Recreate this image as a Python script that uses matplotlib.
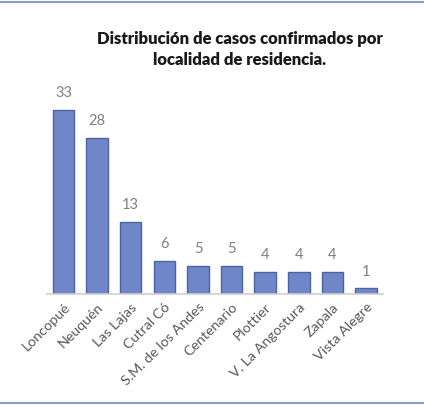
import matplotlib
matplotlib.use('Agg')
import matplotlib.pyplot as plt
from matplotlib.lines import Line2D

localidades = ['Loncopué', 'Neuquén', 'Las Lajas', 'Cutral Có', 'S.M. de los Andes',
               'Centenario', 'Plottier', 'V. La Angostura', 'Zapala', 'Vista Alegre']
casos = [33, 28, 13, 6, 5, 5, 4, 4, 4, 1]

plt.rcParams['font.family'] = ['Lato', 'DejaVu Sans']

fig = plt.figure(figsize=(4.24, 4.05), dpi=100)
ax = fig.add_axes([0.110, 0.274, 0.793, 0.482])

x = range(len(casos))
bars = ax.bar(x, casos, width=0.64, color='#6f86c9', edgecolor='#4b64a6', linewidth=1.0)
for b, v in zip(bars, casos):
    ax.annotate(str(v), (b.get_x() + b.get_width() / 2, v), xytext=(0, 7),
                textcoords='offset points', ha='center', va='bottom',
                fontsize=10.5, color='#7f7f7f')

ax.set_xlim(-0.5, len(casos) - 0.5)
ax.set_ylim(0, 35)
ax.set_xticks(list(x))
ax.set_xticklabels(localidades, rotation=45, ha='right', rotation_mode='anchor',
                   fontsize=10.3, color='#595959')
ax.tick_params(axis='x', length=0, pad=5)
ax.set_yticks([])
for s in ['top', 'right', 'left']:
    ax.spines[s].set_visible(False)
ax.spines['bottom'].set_color('#d0d0d0')
ax.spines['bottom'].set_linewidth(1.2)

fig.text(0.566, 0.877, 'Distribución de casos confirmados por\nlocalidad de residencia.',
         ha='center', va='center', fontsize=12, fontweight='heavy',
         color='#1a1a1a', linespacing=1.4)

# thin frame lines at top and bottom of the picture
fig.add_artist(Line2D([0, 1], [0.996, 0.996], color='#8a9cc4', linewidth=1.5))
fig.add_artist(Line2D([0, 1], [0.005, 0.005], color='#8a9cc4', linewidth=1.5))

fig.savefig('out.png', dpi=100)
